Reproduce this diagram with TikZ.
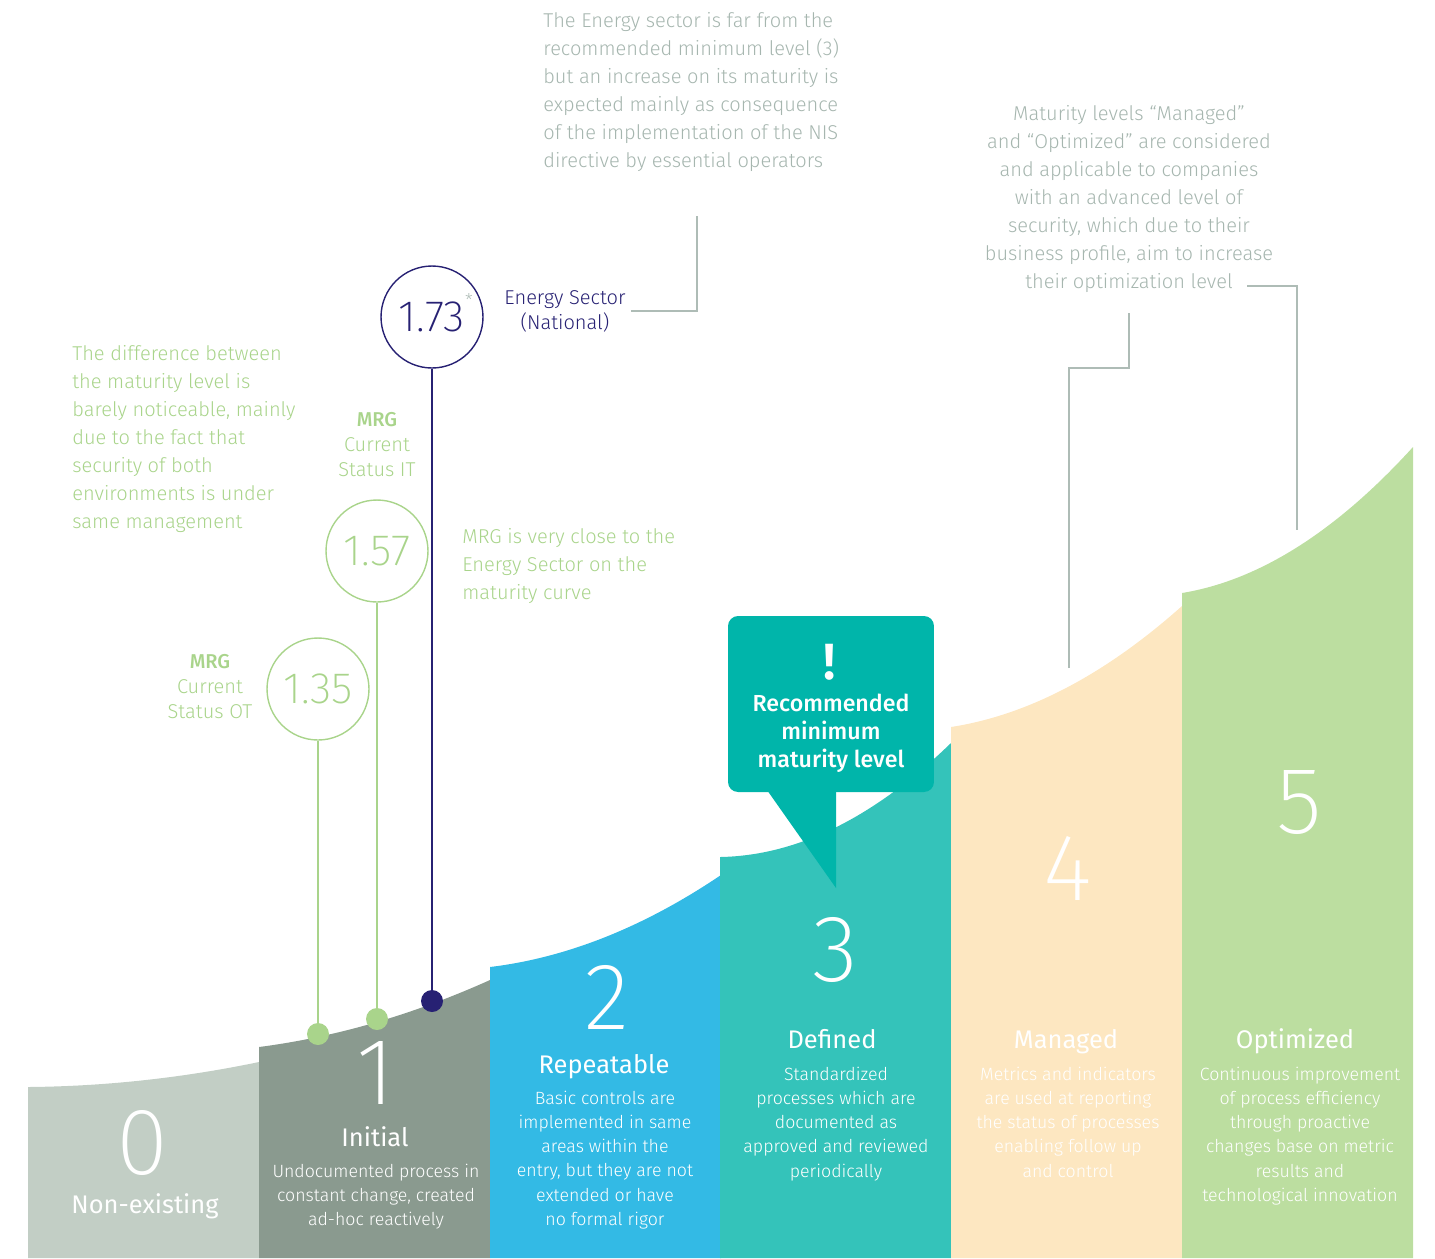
\documentclass[tikz,border=0pt]{standalone}
\usepackage{fontspec}
\IfFontExistsTF{Fira Sans Light}{\setmainfont{Fira Sans Light}}{\setmainfont{Fira Sans}}
\IfFontExistsTF{Fira Sans ExtraLight}{\newfontfamily\thinfont{Fira Sans ExtraLight}}{%
    \IfFontExistsTF{DejaVu Sans ExtraLight}{\newfontfamily\thinfont{DejaVu Sans ExtraLight}}{%
        \newfontfamily\thinfont{Fira Sans}}}
\IfFontExistsTF{Fira Sans Medium}{\newfontfamily\semifont{Fira Sans Medium}}{\newfontfamily\semifont{Fira Sans}}
\newfontfamily\regfont{Fira Sans}
\usetikzlibrary{calc}

\definecolor{lvlzero}{HTML}{C2CEC5}
\definecolor{lvlone}{HTML}{8A9A8F}
\definecolor{lvltwo}{HTML}{33BAE5}
\definecolor{lvlthree}{HTML}{34C3BA}
\definecolor{lvlfour}{HTML}{FDE7C1}
\definecolor{lvlfive}{HTML}{BCDEA0}
\definecolor{calloutteal}{HTML}{00B5AA}
\definecolor{navy}{HTML}{272173}
\definecolor{mrggreen}{HTML}{A9D48B}
\definecolor{notegrey}{HTML}{A6B6AF}
\definecolor{leadergrey}{HTML}{AEBCB6}

\tikzstyle{levelnum} = [text=white, inner sep=0pt, font=\thinfont\fontsize{54}{54}\selectfont]
\tikzstyle{leveltitle} = [text=white, anchor=base, inner sep=0pt, font=\regfont\fontsize{14.5}{17}\selectfont]
\tikzstyle{leveltext} = [text=white, anchor=north, align=center, inner sep=0pt,
    font=\fontsize{10.1}{13.7}\selectfont]
\tikzstyle{note} = [anchor=north west, align=left, inner sep=0pt, font=\fontsize{11.4}{15.95}\selectfont]
\tikzstyle{score} = [circle, draw, line width=0.8pt, minimum size=2.04cm, inner sep=0pt,
    font=\thinfont\fontsize{25}{25}\selectfont]
\tikzstyle{scoredot} = [circle, minimum size=0.44cm, inner sep=0pt]
\tikzstyle{mrglabel} = [text=mrggreen, anchor=north, align=center, inner sep=0pt,
    font=\fontsize{11.4}{14.2}\selectfont]
\tikzstyle{leader} = [draw=leadergrey, line width=0.7pt]

\begin{document}
\begin{tikzpicture}[x=0.02cm, y=-0.02cm]
    \useasboundingbox (0,0) rectangle (1435,1258);
    % Level columns, each with its own piece of the curve
    \foreach \x/\yl/\yc/\yr/\col in {28/1087/1086/1062/lvlzero, 259/1047/1032/980/lvlone,
        490/967/953/875/lvltwo, 720/857/855/743/lvlthree, 951/727/709/606/lvlfour,
        1182/593/574/447/lvlfive} {
        \pgfmathsetmacro{\ya}{\yl+2/3*(\yc-\yl)}
        \pgfmathsetmacro{\yb}{\yr+2/3*(\yc-\yr)}
        \fill[\col] (\x,1258) -- (\x,\yl) .. controls (\x+77,\ya) and (\x+154,\yb) .. (\x+231,\yr)
            -- (\x+231,1258) -- cycle;
    }

    % Place level labels
    \node[levelnum] (num0) at (142,1143) {0};
    \node[leveltitle] (title0) at (145,1213) {Non-existing};

    \node[levelnum] (num1) at (376,1073) {1};
    \node[leveltitle] (title1) at (375,1146) {Initial};
    \node[leveltext] (text1) at (376,1164) {Undocumented process in\\constant change, created\\ad-hoc reactively};

    \node[levelnum] (num2) at (607,997) {2};
    \node[leveltitle] (title2) at (604,1073) {Repeatable};
    \node[leveltext] (text2) at (605,1091) {Basic controls are\\implemented in same\\areas within the\\entry, but they are not\\extended or have\\no formal rigor};

    \node[levelnum] (num3) at (835,950) {3};
    \node[leveltitle] (title3) at (832,1048) {Defined};
    \node[leveltext] (text3) at (836,1067) {Standardized\\processes which are\\documented as\\approved and reviewed\\periodically};

    \node[levelnum] (num4) at (1068,868) {4};
    \node[leveltitle] (title4) at (1066,1048) {Managed};
    \node[leveltext] (text4) at (1068,1067) {Metrics and indicators\\are used at reporting\\the status of processes\\enabling follow up\\and control};

    \node[levelnum] (num5) at (1299,803) {5};
    \node[leveltitle] (title5) at (1295,1048) {Optimized};
    \node[leveltext] (text5) at (1300,1067) {Continuous improvement\\of process efficiency\\through proactive\\changes base on metric\\results and\\technological innovation};

    % Recommended level callout
    \node[rectangle, rounded corners=0.2cm, fill=calloutteal, minimum width=4.12cm,
        minimum height=3.52cm] (callout) at (831,704) {};
    \coordinate (callouttip) at (836,888);
    \fill[calloutteal] (767,790) -- (836,790) -- (callouttip) -- cycle;
    \node[text=white, font=\bfseries\fontsize{29}{29}\selectfont] (bang) at (830,662) {!};
    \node[text=white, align=center, inner sep=0pt, font=\semifont\fontsize{13.2}{15.95}\selectfont]
        (callouttext) at (831,733) {Recommended\\minimum\\maturity level};

    % Scores
    \node[score, draw=navy, text=navy] (energy) at (432,317) {1.73};
    \node[text=leadergrey, font=\fontsize{10}{10}\selectfont] (star) at (469,300) {*};
    \node[score, draw=mrggreen, text=mrggreen] (mrgit) at (377,551) {1.57};
    \node[score, draw=mrggreen, text=mrggreen] (mrgot) at (318,689) {1.35};
    \node[scoredot, fill=navy] (energydot) at (432,1001) {};
    \node[scoredot, fill=mrggreen] (itdot) at (377,1019) {};
    \node[scoredot, fill=mrggreen] (otdot) at (318,1034) {};
    \draw[navy, line width=0.8pt] (energy) -- (energydot);
    \draw[mrggreen, line width=0.8pt] (mrgit) -- (itdot);
    \draw[mrggreen, line width=0.8pt] (mrgot) -- (otdot);

    \node[text=navy, align=center, inner sep=0pt, font=\fontsize{11.4}{14.2}\selectfont]
        (energylabel) at (565,311) {Energy Sector\\(National)};
    \node[mrglabel] (itlabel) at (377,412) {{\semifont MRG}\\Current\\Status IT};
    \node[mrglabel] (otlabel) at (210,654) {{\semifont MRG}\\Current\\Status OT};

    % Notes
    \node[note, text=notegrey] (sectornote) at (543,12) {The Energy sector is far from the\\recommended minimum level (3)\\but an increase on its maturity is\\expected mainly as consequence\\of the implementation of the NIS\\directive by essential operators};
    \node[note, text=mrggreen] (diffnote) at (72,345) {The difference between\\the maturity level is\\barely noticeable, mainly\\due to the fact that\\security of both\\environments is under\\same management};
    \node[note, text=mrggreen] (closenote) at (462,528) {MRG is very close to the\\Energy Sector on the\\maturity curve};
    \node[note, anchor=north, align=center, text=notegrey] (advnote) at (1129,105) {Maturity levels “Managed”\\and “Optimized” are considered\\and applicable to companies\\with an advanced level of\\security, which due to their\\business profile, aim to increase\\their optimization level};

    % Draw leaders
    \coordinate (sectortip) at (697,216);
    \coordinate (managedtip) at (1069,668);
    \coordinate (advtip) at (1129,313);
    \coordinate (advstart) at (1247,286);
    \coordinate (optimizedtip) at (1297,530);
    \draw[leader] ([xshift=0.1cm]energylabel.east) -| (sectortip);
    \draw[leader] (managedtip) |- (1129,368) -- (advtip);
    \draw[leader] (advstart) -| (optimizedtip);
\end{tikzpicture}
\end{document}
